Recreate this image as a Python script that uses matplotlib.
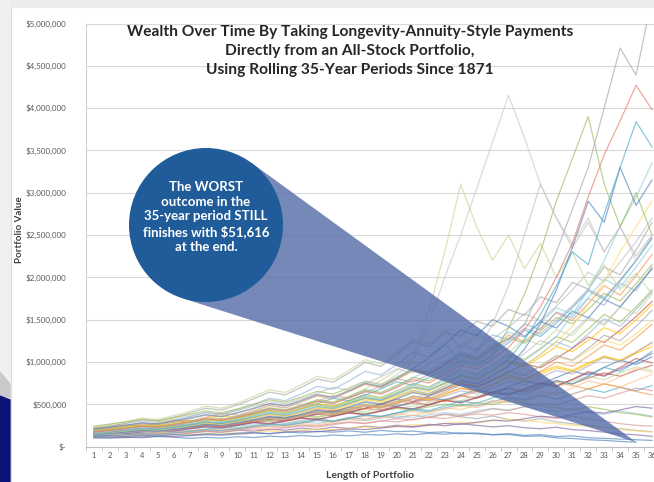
import numpy as np
import matplotlib
matplotlib.use('Agg')
import matplotlib.pyplot as plt
from matplotlib.patches import Circle, Polygon, Rectangle
from matplotlib.ticker import FuncFormatter, MultipleLocator

plt.rcParams['font.family'] = ['Lato', 'DejaVu Sans']

# year of the period (1..36)
years = np.arange(1, 37)

# portfolio values in $ thousands (estimated)
worst = [120, 128, 118, 132, 125, 140, 134, 150, 142, 158, 165, 150, 172, 160, 178, 170, 185, 168,
         190, 176, 182, 165, 172, 150, 160, 138, 142, 120, 125, 102, 95, 80, 72, 60, 51.616]
low_2 = [105, 98, 112, 104, 118, 110, 96, 108, 100, 115, 106, 122, 114, 130, 118, 136, 126, 142,
         134, 150, 138, 156, 146, 162, 150, 140, 152, 132, 140, 118, 126, 104, 96, 88, 80, 72]
low_3 = [140, 150, 135, 160, 148, 170, 158, 182, 170, 195, 180, 205, 192, 218, 200, 230, 212, 240,
         225, 252, 236, 262, 245, 270, 250, 232, 246, 222, 210, 228, 200, 188, 170, 150, 138, 120]
low_4 = [180, 195, 210, 190, 225, 240, 218, 255, 270, 248, 285, 300, 275, 310, 330, 300, 345, 320,
         360, 335, 372, 340, 380, 350, 330, 360, 320, 300, 330, 290, 270, 250, 230, 210, 190, 175]
low_5 = [125, 135, 150, 142, 165, 180, 170, 195, 210, 198, 225, 240, 228, 255, 242, 270, 290, 275,
         305, 290, 320, 345, 330, 360, 385, 370, 400, 380, 350, 330, 360, 320, 300, 270, 250, 240]
low_6 = [160, 150, 170, 185, 172, 195, 210, 228, 215, 240, 258, 245, 270, 290, 275, 300, 320, 305,
         335, 360, 342, 375, 400, 380, 420, 450, 430, 470, 440, 410, 450, 400, 380, 420, 390, 360]
low_7 = [110, 118, 126, 122, 134, 142, 138, 150, 162, 155, 170, 182, 176, 192, 205, 198, 215, 230,
         222, 240, 258, 250, 270, 290, 280, 300, 320, 310, 290, 270, 250, 240, 225, 200, 185, 170]
low_8 = [200, 218, 205, 232, 250, 238, 265, 285, 270, 300, 320, 305, 340, 362, 345, 380, 405, 390,
         420, 450, 430, 470, 500, 480, 520, 495, 540, 510, 480, 460, 430, 470, 440, 400, 380, 350]
low_9 = [100, 108, 104, 113, 122, 118, 128, 139, 134, 146, 159, 153, 167, 182, 175, 191, 208, 200,
         218, 238, 229, 250, 273, 262, 286, 312, 300, 328, 358, 344, 376, 411, 395, 432, 472, 453]

mid_1 = [150, 168, 185, 175, 200, 225, 212, 245, 272, 258, 295, 325, 308, 350, 385, 365, 410, 450,
         430, 480, 520, 495, 550, 600, 570, 630, 690, 650, 720, 780, 740, 810, 870, 830, 900, 960]
mid_2 = [130, 142, 158, 150, 172, 190, 182, 205, 228, 218, 245, 270, 258, 290, 318, 302, 338, 372,
         355, 395, 432, 410, 455, 500, 478, 530, 580, 552, 610, 560, 620, 680, 640, 700, 660, 720]
mid_3 = [210, 232, 255, 240, 275, 305, 290, 330, 360, 340, 385, 420, 400, 450, 490, 460, 520, 565,
         540, 600, 650, 620, 690, 750, 710, 780, 850, 800, 880, 950, 900, 990, 1060, 1010, 1100, 1180]
mid_4 = [175, 190, 178, 205, 225, 215, 245, 270, 258, 290, 318, 300, 340, 372, 352, 395, 430, 410,
         455, 495, 470, 520, 565, 540, 600, 650, 620, 680, 740, 700, 770, 830, 790, 870, 940, 900]
mid_5 = [120, 132, 145, 160, 150, 170, 188, 205, 195, 218, 240, 262, 250, 278, 305, 290, 322, 355,
         340, 378, 412, 395, 438, 480, 460, 510, 560, 535, 590, 645, 615, 680, 740, 705, 780, 850]
mid_6 = [190, 175, 200, 222, 208, 236, 262, 248, 280, 310, 292, 330, 365, 345, 388, 428, 405, 452,
         498, 472, 525, 578, 548, 610, 670, 635, 705, 775, 735, 815, 890, 845, 935, 1020, 970, 1060]
mid_7 = [145, 160, 152, 172, 192, 182, 208, 232, 220, 250, 280, 265, 300, 335, 318, 358, 398, 378,
         422, 468, 445, 495, 548, 520, 580, 645, 612, 680, 750, 715, 790, 870, 830, 915, 1000, 1100]
mid_8 = [230, 215, 240, 265, 250, 280, 310, 295, 330, 300, 340, 380, 360, 400, 445, 420, 468, 440,
         490, 540, 510, 560, 530, 590, 650, 620, 680, 640, 700, 760, 720, 680, 740, 700, 650, 610]
mid_9 = [160, 176, 194, 185, 210, 238, 225, 258, 290, 275, 312, 350, 332, 375, 420, 398, 448, 500,
         472, 530, 590, 560, 625, 690, 655, 730, 805, 765, 850, 930, 885, 975, 1070, 1020, 1120, 1220]
mid_10 = [115, 125, 120, 135, 148, 142, 160, 176, 168, 188, 206, 196, 220, 242, 230, 258, 284, 270,
          300, 330, 315, 350, 385, 365, 405, 445, 425, 470, 515, 490, 545, 600, 570, 630, 690, 660]
mid_11 = [155, 172, 190, 210, 200, 222, 246, 272, 259, 287, 318, 352, 335, 372, 412, 392, 435, 482,
          458, 508, 563, 536, 594, 658, 626, 694, 770, 732, 812, 900, 856, 950, 1055, 1000, 1110, 1235]
mid_12 = [125, 138, 130, 146, 162, 154, 172, 192, 182, 204, 228, 216, 242, 271, 257, 288, 322, 306,
          343, 384, 365, 409, 458, 435, 487, 545, 518, 580, 650, 617, 691, 774, 735, 823, 922, 876]
mid_13 = [195, 214, 236, 225, 250, 278, 265, 295, 328, 312, 348, 388, 370, 413, 460, 438, 488, 545,
          518, 578, 645, 613, 684, 762, 725, 808, 900, 856, 955, 1065, 1012, 1130, 1260, 1197, 1335, 1490]
mid_14 = [165, 182, 172, 190, 210, 200, 222, 246, 234, 260, 288, 274, 305, 338, 321, 357, 396, 376,
          418, 464, 441, 490, 545, 518, 576, 640, 608, 676, 752, 714, 794, 884, 840, 935, 1040, 988]
mid_15 = [115, 126, 138, 151, 144, 160, 178, 198, 188, 210, 234, 261, 248, 278, 311, 296, 332, 372,
          354, 398, 447, 425, 478, 537, 510, 574, 645, 613, 690, 776, 737, 830, 935, 888, 1000, 1125]
mid_16 = [145, 160, 177, 196, 186, 207, 231, 257, 244, 272, 303, 338, 321, 359, 401, 381, 427, 478,
          454, 510, 573, 544, 612, 688, 654, 736, 828, 787, 886, 997, 947, 1066, 1200, 1140, 1284, 1445]
mid_17 = [150, 165, 182, 200, 190, 212, 236, 262, 249, 278, 310, 346, 329, 368, 412, 391, 440, 495,
          470, 530, 598, 568, 642, 725, 689, 780, 882, 838, 950, 1075, 1021, 1160, 1315, 1250, 1420, 1610]
mid_18 = [185, 204, 225, 248, 236, 262, 291, 323, 307, 342, 381, 424, 403, 450, 502, 477, 532, 594,
          564, 630, 704, 669, 748, 836, 794, 888, 993, 943, 1055, 1180, 1121, 1255, 1405, 1335, 1495, 1675]

high_1 = [170, 192, 215, 205, 238, 270, 255, 295, 335, 315, 365, 412, 390, 445, 505, 478, 545, 615,
          580, 660, 745, 705, 800, 905, 855, 970, 1090, 1030, 1160, 1300, 1230, 1390, 1560, 1470, 1650, 1850]
high_2 = [200, 225, 250, 238, 275, 315, 298, 345, 392, 370, 425, 485, 458, 525, 598, 565, 648, 735,
          695, 790, 895, 845, 960, 1085, 1025, 1165, 1315, 1240, 1400, 1580, 1490, 1690, 1900, 1790, 2020, 2270]
high_3 = [140, 158, 176, 168, 192, 220, 208, 240, 275, 260, 300, 345, 325, 375, 430, 405, 468, 538,
          505, 580, 665, 625, 720, 825, 775, 890, 1015, 955, 1090, 1240, 1165, 1330, 1510, 1420, 1620, 1830]
high_4 = [185, 205, 228, 250, 238, 268, 300, 335, 318, 358, 400, 448, 425, 478, 535, 600, 570, 640,
          715, 800, 760, 850, 950, 1060, 1005, 1125, 1255, 1400, 1330, 1490, 1665, 1860, 1760, 1970, 2200, 2460]
high_5 = [220, 245, 272, 300, 285, 320, 358, 400, 380, 425, 475, 530, 505, 565, 630, 700, 665, 742,
          825, 918, 870, 970, 1080, 1200, 1140, 1270, 1410, 1570, 1490, 1660, 1850, 2060, 1950, 2180, 2420, 2700]
high_6 = [130, 145, 162, 180, 171, 192, 215, 240, 228, 256, 287, 320, 304, 340, 380, 424, 402, 450,
          503, 562, 533, 596, 665, 742, 705, 787, 878, 980, 930, 1040, 1160, 1295, 1230, 1375, 1535, 1715]
high_7 = [165, 185, 208, 232, 220, 248, 280, 315, 298, 336, 378, 425, 402, 452, 508, 570, 540, 608,
          682, 765, 725, 815, 915, 1025, 970, 1090, 1225, 1375, 1300, 1460, 1640, 1840, 1740, 1955, 2195, 2465]
high_8 = [210, 240, 275, 315, 300, 345, 395, 452, 430, 492, 562, 642, 610, 698, 798, 760, 870, 995,
          948, 1085, 1240, 1180, 1350, 1300, 1480, 1420, 1620, 1550, 1770, 1700, 1940, 1860, 2120, 2030, 2320, 2650]
high_9 = [190, 215, 245, 280, 266, 305, 350, 400, 380, 435, 498, 570, 542, 620, 710, 676, 775, 888,
          845, 968, 1110, 1058, 1212, 1000, 1150, 1320, 1260, 1450, 1380, 1590, 1520, 1750, 1670, 1930, 1840, 2120]
high_10 = [230, 260, 295, 336, 320, 365, 416, 475, 452, 515, 588, 670, 638, 728, 830, 790, 900, 1026,
           978, 1115, 1270, 1210, 1380, 1160, 1320, 1250, 1110, 1270, 1200, 1380, 1310, 1510, 1430, 1650, 1570, 1800]
high_11 = [180, 200, 222, 246, 234, 262, 294, 330, 312, 352, 396, 446, 422, 478, 540, 512, 582, 660,
           626, 712, 810, 900, 1000, 1120, 1060, 1200, 1350, 1290, 1460, 1640, 1560, 1760, 1980, 1880, 2120, 2380]
high_12 = [135, 150, 166, 184, 175, 196, 220, 246, 233, 262, 294, 330, 313, 352, 396, 376, 424, 478,
           454, 512, 578, 620, 700, 790, 750, 850, 960, 1100, 1250, 1190, 1350, 1530, 1450, 1650, 1870, 2100]
high_13 = [205, 228, 253, 280, 266, 298, 334, 374, 355, 400, 450, 506, 480, 542, 612, 580, 660, 748,
           710, 808, 920, 1050, 1200, 1380, 1310, 1500, 1420, 1300, 1480, 1400, 1600, 1520, 1740, 1650, 1880, 2100]
high_14 = [240, 265, 292, 322, 306, 340, 378, 420, 399, 445, 496, 552, 524, 585, 652, 620, 692, 772,
           734, 820, 915, 870, 972, 1085, 1030, 1150, 1285, 1220, 1365, 1525, 1450, 1620, 1810, 1720, 1925, 2150]

peak_26 = [160, 180, 205, 230, 218, 250, 290, 335, 318, 365, 420, 480, 455, 525, 605, 575, 665, 765,
           730, 850, 1000, 1450, 2000, 2500, 3050, 3600, 4150, 3650, 3100, 2700, 2400, 2700, 2300, 2600, 2200, 2500]
peak_23 = [140, 160, 180, 205, 195, 225, 258, 295, 280, 320, 368, 420, 400, 460, 530, 505, 585, 680,
           780, 900, 1050, 1600, 2300, 3100, 2600, 2200, 2500, 2100, 2400, 2000, 2300, 1900, 2150, 1850, 2050, 1800]
peak_28 = [130, 148, 166, 185, 176, 200, 228, 260, 246, 282, 322, 368, 350, 400, 458, 435, 500, 575,
           545, 630, 725, 690, 800, 930, 1100, 1450, 1900, 2500, 3100, 2700, 2350, 2650, 2300, 2600, 2250, 2500]

best_gray = [190, 215, 242, 272, 258, 292, 330, 372, 352, 398, 450, 508, 482, 545, 615, 585, 660, 745,
             708, 800, 905, 860, 975, 1100, 1045, 1180, 1270, 1440, 1850, 2300, 2800, 3300, 4000, 4710, 4390, 5300]
best_red = [170, 190, 212, 238, 226, 255, 288, 325, 308, 348, 392, 442, 420, 474, 535, 508, 575, 650,
            618, 698, 790, 750, 850, 962, 915, 1035, 1170, 1380, 1650, 2000, 2400, 2950, 3450, 3850, 4270, 3980]
best_teal = [150, 168, 188, 210, 200, 226, 255, 288, 273, 308, 347, 392, 372, 420, 474, 450, 508, 575,
             547, 618, 698, 664, 750, 848, 806, 912, 1030, 1260, 1560, 1900, 2300, 2150, 2750, 3300, 3840, 3540]
best_blue = [135, 152, 170, 190, 180, 204, 230, 260, 246, 278, 313, 354, 336, 380, 430, 408, 462, 523,
             497, 563, 637, 605, 686, 776, 738, 836, 947, 1150, 1450, 1850, 2350, 2900, 2650, 3300, 2850, 3150]
best_green = [175, 196, 219, 245, 233, 263, 297, 335, 318, 359, 405, 457, 434, 490, 553, 525, 594, 672,
              638, 722, 817, 776, 880, 996, 946, 1070, 1400, 1800, 2300, 2900, 3400, 3900, 3100, 2600, 3000, 2500]
upper_1 = [160, 178, 198, 220, 209, 236, 266, 300, 284, 320, 361, 407, 387, 436, 492, 467, 527, 595,
           566, 639, 722, 686, 776, 878, 834, 944, 1068, 1015, 1150, 1300, 1560, 1850, 2200, 2600, 2950, 3350]
upper_2 = [145, 162, 181, 202, 192, 217, 245, 277, 262, 296, 335, 378, 359, 406, 459, 436, 493, 557,
           530, 600, 680, 646, 732, 830, 788, 893, 1012, 960, 1090, 1240, 1420, 1680, 1950, 2300, 2600, 2900]

series = [low_2, mid_1, high_1, low_3, mid_2, high_2, low_4, mid_3, high_3, low_5, mid_4, high_4,
          low_6, mid_5, high_5, low_7, mid_6, high_6, low_8, mid_7, high_7, mid_8, high_8, mid_9,
          high_9, mid_10, high_10, mid_11, high_11, mid_12, high_12, mid_13, high_13, mid_14, high_14,
          low_9, mid_15, mid_16, mid_17, mid_18, peak_23, peak_28, upper_1, upper_2,
          best_green, best_blue, peak_26, best_teal, best_red, best_gray, worst]
n_plain = 40  # the first series get the cycling palette, the rest have their own colour

palette = ['#4F81BD', '#C0504D', '#9BBB59', '#8064A2', '#4BACC6', '#F79646', '#A5A5A5', '#FFC000',
           '#95B3D7', '#D99694', '#C3D69B', '#B3A2C7', '#93CDDD', '#FAC090', '#BFBFBF', '#FFD966']
own_colors = ['#C3D69B', '#BFBFBF', '#93CDDD', '#FFD966', '#9BBB59', '#4F81BD', '#C8C8C8',
              '#4BACC6', '#E8786A', '#A5A5A5', '#4F81BD']

W, H = 654, 482
fig = plt.figure(figsize=(W / 100, H / 100), dpi=100)
fig.patch.set_facecolor('white')


def px_box(x0, y0, x1, y1):
    return [x0 / W, 1 - y1 / H, (x1 - x0) / W, (y1 - y0) / H]


# slide background bits
bg = fig.add_axes([0, 0, 1, 1], zorder=0)
bg.set_xlim(0, W)
bg.set_ylim(H, 0)
bg.axis('off')
bg.add_patch(Rectangle((0, 0), W, 7, color='#ececec'))
bg.add_patch(Rectangle((0, 0), 10, H, color='#f0f0f0'))
bg.add_patch(Polygon([(0, 372), (10, 384), (10, 398), (0, 394)], color='#c9c9c9'))
bg.add_patch(Polygon([(0, 396), (10, 400), (10, H), (0, H)], color='#0c1478'))
bg.plot([10.5, 10.5], [7, H], color='#dddddd', lw=0.8)

ax = fig.add_axes(px_box(86, 23.5, 660, 446.5), zorder=1)
ax.set_facecolor('none')
for i, s in enumerate(series):
    c = palette[i % len(palette)] if i < n_plain else own_colors[i - n_plain]
    ax.plot(years[:len(s)], np.array(s) * 1000, color=c, lw=0.9, alpha=0.65)

ax.set_xlim(0.5, 36.5)
ax.set_ylim(0, 5e6)
ax.yaxis.set_major_locator(MultipleLocator(500000))
ax.yaxis.set_major_formatter(FuncFormatter(lambda v, p: '$-' if v == 0 else '${:,.0f}'.format(v)))
ax.set_xticks(years)
ax.set_xticks(np.arange(0.5, 37, 1), minor=True)
ax.tick_params(axis='x', which='major', length=0, labelsize=5.5, colors='#595959', pad=4)
ax.tick_params(axis='x', which='minor', length=3, color='#bfbfbf')
ax.tick_params(axis='y', length=0, labelsize=5.8, colors='#595959', pad=14)
ax.grid(axis='y', color='#d9d9d9', lw=0.8)
ax.set_axisbelow(True)
for side in ['top', 'right']:
    ax.spines[side].set_visible(False)
ax.spines['left'].set_color('#d0d0d0')
ax.spines['bottom'].set_color('#bfbfbf')

fig.text(19 / W, 1 - 230 / H, 'Portfolio Value', rotation=90, ha='center', va='center',
         fontsize=7, fontweight='bold', color='#404040')
fig.text(370 / W, 1 - 476 / H, 'Length of Portfolio', ha='center', va='center',
         fontsize=7.5, fontweight='bold', color='#404040')
fig.text(350 / W, 1 - 51 / H,
         'Wealth Over Time By Taking Longevity-Annuity-Style Payments\n'
         'Directly from an All-Stock Portfolio,\n'
         'Using Rolling 35-Year Periods Since 1871',
         ha='center', va='center', ma='center', fontsize=11.2, fontweight='bold',
         color='#262626', linespacing=1.45, zorder=5)

# callout: circle plus wedge pointing at the worst ending value
fg = fig.add_axes([0, 0, 1, 1], zorder=3)
fg.set_xlim(0, W)
fg.set_ylim(H, 0)
fg.axis('off')
fg.patch.set_alpha(0)

xd, yd = ax.transData.transform((len(worst), worst[-1] * 1000))
apex = np.array([xd, H - yd])
center = np.array([206.0, 225.0])
r = 77.0
d = apex - center
dist = np.hypot(*d)
ang = np.arctan2(d[1], d[0])
beta = np.arccos(r / dist)
t1 = center + r * np.array([np.cos(ang + beta), np.sin(ang + beta)])
t2 = center + r * np.array([np.cos(ang - beta), np.sin(ang - beta)])
fg.add_patch(Polygon([t1, apex, t2, center], closed=True, facecolor='#4f67a4', alpha=0.78, lw=0))
fg.add_patch(Circle(center, r, facecolor='#1f5c99', edgecolor='none'))
fg.text(center[0], 217, 'The WORST\noutcome in the\n35-year period STILL\nfinishes with $51,616\nat the end.',
        ha='center', va='center', ma='center', color='white', fontsize=9.5, fontweight='bold',
        linespacing=1.25)

fig.savefig('out.png', dpi=100)
